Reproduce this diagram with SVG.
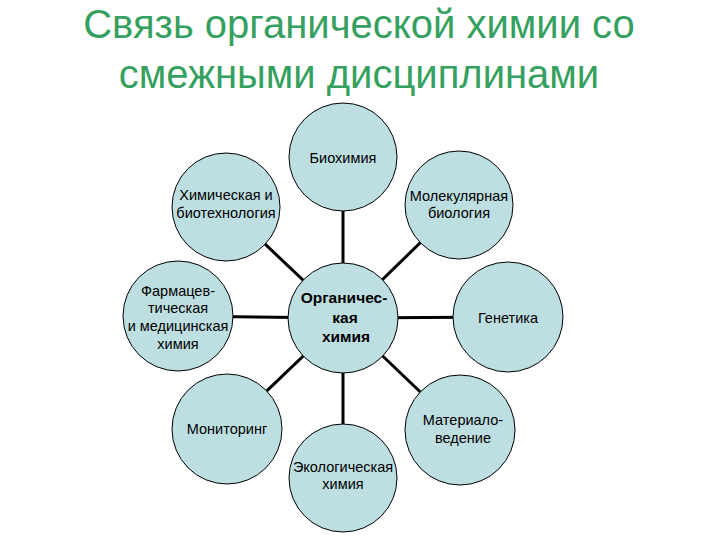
<svg xmlns="http://www.w3.org/2000/svg" width="720" height="540" viewBox="0 0 720 540">
<style>
.title{font-family:"Liberation Sans",Arial,sans-serif;font-size:40px;fill:#35A060;text-anchor:middle}
.node circle{fill:#BEDFE2;stroke:#000;stroke-width:1}
.node text{font-family:"Liberation Sans",Arial,sans-serif;font-size:14.5px;fill:#000;text-anchor:middle}
#center text{font-weight:bold;font-size:15.5px}
.conn line{stroke:#000;stroke-width:3}
</style>
<rect width="720" height="540" fill="#fff"/>
<text class="title" x="359" y="38">Связь органической химии со</text>
<text class="title" x="359" y="88">смежными дисциплинами</text>
<g class="conn" id="connectors">
<line x1="343" y1="157" x2="343" y2="318"/>
<line x1="226" y1="207" x2="343" y2="318"/>
<line x1="459" y1="205" x2="343" y2="318"/>
<line x1="178" y1="316" x2="343" y2="318"/>
<line x1="508" y1="317" x2="343" y2="318"/>
<line x1="227" y1="429" x2="343" y2="318"/>
<line x1="460" y1="430" x2="343" y2="318"/>
<line x1="343" y1="478" x2="343" y2="318"/>
</g>
<g class="node" id="biochem"><circle cx="343" cy="157" r="54"/><text x="343" y="163">Биохимия</text></g>
<g class="node" id="chembio"><circle cx="226" cy="207" r="54"/><text x="226" y="200">Химическая и</text><text x="226" y="218">биотехнология</text></g>
<g class="node" id="molbio"><circle cx="459" cy="205" r="54"/><text x="459" y="201">Молекулярная</text><text x="459" y="218">биология</text></g>
<g class="node" id="pharma"><circle cx="178" cy="316" r="55"/><text x="178" y="296">Фармацев-</text><text x="178" y="313">тическая</text><text x="178" y="331">и медицинская</text><text x="178" y="349">химия</text></g>
<g class="node" id="center"><circle cx="343" cy="318" r="55"/><text x="344" y="303">Органичес-</text><text x="345" y="323">кая</text><text x="346" y="342">химия</text></g>
<g class="node" id="genetics"><circle cx="508" cy="317" r="55"/><text x="508" y="323">Генетика</text></g>
<g class="node" id="monitoring"><circle cx="227" cy="429" r="55"/><text x="227" y="434">Мониторинг</text></g>
<g class="node" id="materials"><circle cx="460" cy="430" r="55"/><text x="463" y="425">Материало-</text><text x="463" y="443">ведение</text></g>
<g class="node" id="ecochem"><circle cx="343" cy="478" r="54"/><text x="343" y="472">Экологическая</text><text x="343" y="489">химия</text></g>
</svg>
